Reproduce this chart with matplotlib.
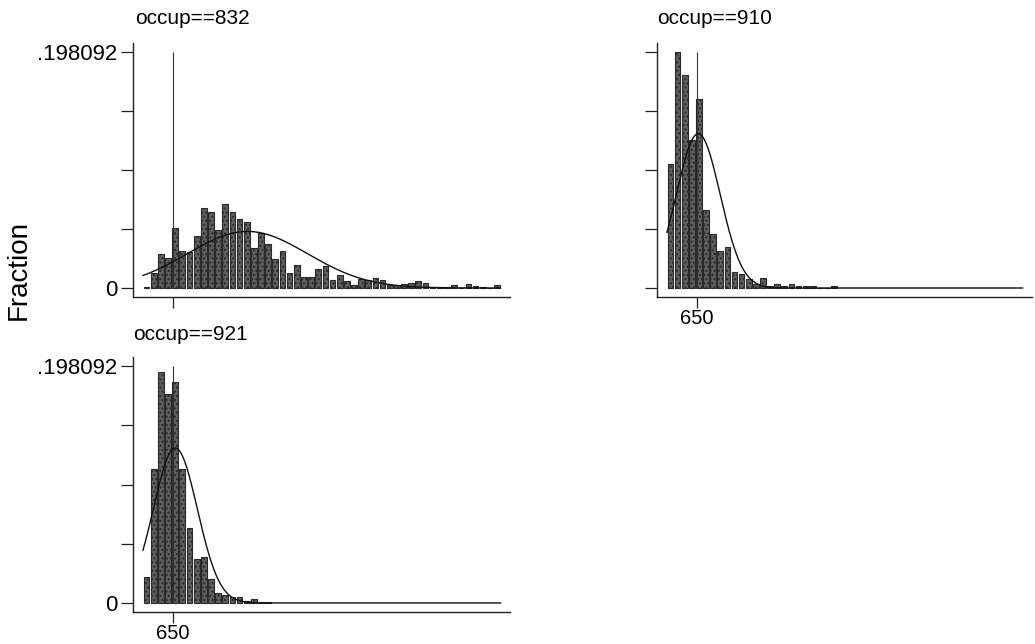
import matplotlib
matplotlib.use("Agg")
import matplotlib.pyplot as plt
import numpy as np

plt.rcParams['font.family'] = ['Liberation Sans', 'DejaVu Sans']

# histogram bins shared by all panels (fraction per bin)
binStart = 545
binWidth = 25
yMax = 0.198092

titles = ["occup==832", "occup==910", "occup==921"]

frac832 = [0.0010, 0.0129, 0.0283, 0.0249, 0.0501, 0.0313, 0.0299, 0.0436, 0.0674, 0.0635,
           0.0489, 0.0702, 0.0635, 0.0576, 0.0556, 0.0333, 0.0464, 0.0366, 0.0243, 0.0310,
           0.0123, 0.0193, 0.0095, 0.0095, 0.0159, 0.0182, 0.0064, 0.0112, 0.0061, 0.0028,
           0.0076, 0.0070, 0.0081, 0.0064, 0.0025, 0.0025, 0.0036, 0.0042, 0.0061, 0.0042,
           0.0006, 0.0011, 0.0011, 0.0025, 0.0000, 0.0036, 0.0014, 0.0011, 0.0000, 0.0025]
frac910 = [0.1038, 0.198092, 0.1787, 0.1242, 0.1586, 0.0654, 0.0450, 0.0310, 0.0347, 0.0137,
           0.0120, 0.0076, 0.0031, 0.0082, 0.0017, 0.0031, 0.0017, 0.0034, 0.0017, 0.0017,
           0.0017, 0.0000, 0.0000, 0.0017]
frac921 = [0.0221, 0.1122, 0.1927, 0.1751, 0.1848, 0.1122, 0.0627, 0.0367, 0.0383, 0.0199,
           0.0087, 0.0070, 0.0053, 0.0048, 0.0015, 0.0030, 0.0010, 0.0010]

# normal overlay parameters (mean, sd)
normMeans = [910, 655, 658]
normSds = [210, 77, 77]

nBins = 50
xLine = 650

W, H = 1035, 644
def rect(l, t, r, b):
    return [l / W, 1 - b / H, (r - l) / W, (b - t) / H]

axRects = [rect(133, 43, 510, 297), rect(657, 43, 1032, 297), rect(133, 357, 510, 612)]
titlePos = [(135, 19), (657, 19), (133, 335)]
showXLabel = [False, True, True]
fracs = [frac832, frac910, frac921]

fig = plt.figure(figsize=(10.35, 6.44), dpi=100, facecolor="white")

pad = 9 * yMax / 236
xEdges = binStart + binWidth * np.arange(nBins + 1)
xs = np.linspace(xEdges[0], xEdges[-1], 400)

for p in range(3):
    ax = fig.add_axes(axRects[p])
    f = np.array(fracs[p])
    centers = binStart + binWidth * (np.arange(len(f)) + 0.5)
    ax.bar(centers, f, width=binWidth * 0.8, color="#5e5e5e", edgecolor="#2a2a2a",
           linewidth=0.8, hatch="....", zorder=2)
    ax.vlines(xLine, 0, yMax, color="#333333", linewidth=0.8, zorder=3)
    dens = binWidth * np.exp(-0.5 * ((xs - normMeans[p]) / normSds[p]) ** 2) / (normSds[p] * np.sqrt(2 * np.pi))
    ax.plot(xs, dens, color="#111111", linewidth=1.0, zorder=4)

    ax.set_xlim(510, 1828)
    ax.set_ylim(-pad, yMax + pad)
    ax.spines['top'].set_visible(False)
    ax.spines['right'].set_visible(False)
    for s in ['left', 'bottom']:
        ax.spines[s].set_linewidth(1.0)
        ax.spines[s].set_color("#222222")
    ax.set_yticks(np.linspace(0, yMax, 5))
    ax.set_yticklabels(["0", "", "", "", ".198092"] if p != 1 else ["", "", "", "", ""])
    ax.set_xticks([xLine])
    ax.set_xticklabels(["650"] if showXLabel[p] else [""])
    ax.tick_params(axis="y", direction="out", length=9, width=0.9, labelsize=16, pad=2, color="#222222")
    ax.tick_params(axis="x", direction="out", length=8, width=0.9, labelsize=14.5, pad=0.5, color="#222222")
    fig.text(titlePos[p][0] / W, 1 - titlePos[p][1] / H, titles[p], fontsize=15,
             ha="left", va="center")

fig.text(19 / W, 1 - 270 / H, "Fraction", rotation=90, fontsize=20, ha="center", va="center")

fig.savefig("out.png", dpi=100, facecolor="white")
